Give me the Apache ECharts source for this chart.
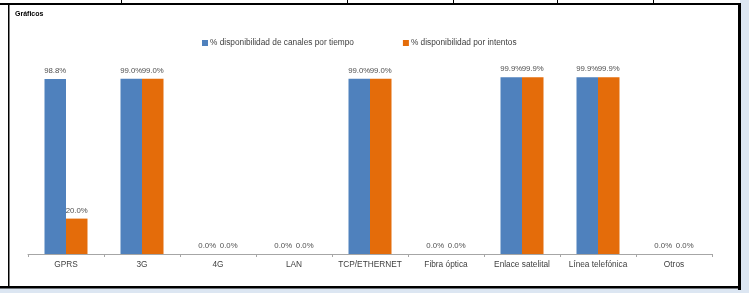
<!DOCTYPE html>
<html>
<head>
<meta charset="utf-8">
<script src="https://cdn.jsdelivr.net/npm/echarts@6/dist/echarts.min.js"></script>
<style>
  html, body { margin: 0; padding: 0; background: #fff; }
  #main { width: 749px; height: 293px; }
</style>
</head>
<body>
<div id="main"></div>
<script>
// datos
var categorias = ['GPRS', '3G', '4G', 'LAN', 'TCP/ETHERNET', 'Fibra óptica', 'Enlace satelital', 'Línea telefónica', 'Otros'];
var porTiempo = [98.8, 99.0, 0, 0, 99.0, 0, 99.9, 99.9, 0];
var porIntentos = [20.0, 99.0, 0, 0, 99.0, 0, 99.9, 99.9, 0];
var nombres = ['% disponibilidad de canales por tiempo', '% disponibilidad por intentos'];

var fuente = '"Liberation Sans", sans-serif';
var myChart = echarts.init(document.getElementById('main'));

// etiqueta con un decimal
var etiqueta = {
    show: true,
    position: 'top',
    distance: 4,
    color: '#505050',
    fontFamily: fuente,
    fontSize: 7.8,
    formatter: function (p) { return p.value.toFixed(1) + '%'; }
};

myChart.setOption({
    backgroundColor: '#fff',
    animation: false,
    title: {
        text: 'Gráficos',
        left: 10,
        top: 6,
        textStyle: { fontSize: 7, fontWeight: 'bold', color: '#000', fontFamily: fuente }
    },
    legend: {
        data: nombres,
        left: 197,
        top: 34,
        icon: 'rect',
        itemWidth: 6,
        itemHeight: 6,
        itemGap: 49,
        textStyle: { fontSize: 8.3, color: '#404040', fontFamily: fuente, padding: [0, 0, 0, -3] }
    },
    grid: { left: 28, right: 37, top: 77, bottom: 39 },
    xAxis: {
        type: 'category',
        data: categorias,
        axisLine: { lineStyle: { color: '#a6a6a6' } },
        axisTick: { show: true, length: 3, lineStyle: { color: '#a6a6a6' } },
        axisLabel: { interval: 0, margin: 7, color: '#404040', fontSize: 8.3, fontFamily: fuente }
    },
    yAxis: {
        type: 'value',
        min: 0,
        max: 100,
        show: false
    },
    series: [{
        name: nombres[0],
        type: 'bar',
        data: porTiempo,
        barWidth: 21.5,
        barGap: '0%',
        itemStyle: { color: '#4f81bd' },
        label: etiqueta
    }, {
        name: nombres[1],
        type: 'bar',
        data: porIntentos,
        barWidth: 21.5,
        itemStyle: { color: '#e46c0a' },
        label: etiqueta
    }],
    // marco de la hoja
    graphic: [
        { type: 'rect', shape: { x: 740, y: 0, width: 9, height: 293 }, style: { fill: '#dce6f2' }, silent: true },
        { type: 'rect', shape: { x: 0, y: 288, width: 749, height: 5 }, style: { fill: '#dce6f2' }, silent: true },
        { type: 'rect', shape: { x: 0, y: 3, width: 741, height: 2 }, style: { fill: '#000' }, silent: true },
        { type: 'rect', shape: { x: 738, y: 3, width: 3, height: 287 }, style: { fill: '#000' }, silent: true },
        { type: 'rect', shape: { x: 8, y: 5, width: 1.5, height: 283 }, style: { fill: '#000' }, silent: true },
        { type: 'rect', shape: { x: 0, y: 286, width: 741, height: 2.5 }, style: { fill: '#000' }, silent: true },
        { type: 'rect', shape: { x: 121, y: 0, width: 1, height: 3 }, style: { fill: '#000' }, silent: true },
        { type: 'rect', shape: { x: 347, y: 0, width: 1, height: 3 }, style: { fill: '#000' }, silent: true },
        { type: 'rect', shape: { x: 453, y: 0, width: 1, height: 3 }, style: { fill: '#000' }, silent: true },
        { type: 'rect', shape: { x: 557, y: 0, width: 1, height: 3 }, style: { fill: '#000' }, silent: true },
        { type: 'rect', shape: { x: 653, y: 0, width: 1, height: 3 }, style: { fill: '#000' }, silent: true }
    ]
});
</script>
</body>
</html>
